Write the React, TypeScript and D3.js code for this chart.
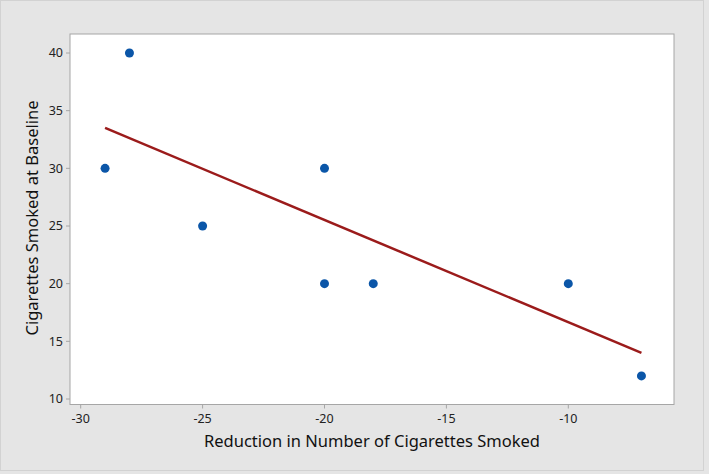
import React from "react";
import * as d3 from "d3";

const reduction = [-29, -28, -25, -20, -20, -18, -10, -7];
const baseline = [30, 40, 25, 30, 20, 20, 20, 12];
const fitX = [-29, -7];
const fitY = [33.5, 14.0];
const xTicks = [-30, -25, -20, -15, -10];
const yTicks = [10, 15, 20, 25, 30, 35, 40];

const W = 709;
const H = 474;
const plot = { left: 70, top: 34, right: 674, bottom: 404.5 };

export default function App() {
  const x = d3.scaleLinear().domain([-30, -10]).range([80.7, 568.3]);
  const y = d3.scaleLinear().domain([10, 40]).range([399, 53]);
  const line = d3
    .line<number>()
    .x((_, i) => x(fitX[i]))
    .y((d) => y(d));
  const font = "'Noto Sans', 'Open Sans', sans-serif";
  return (
    <svg
      width={W}
      height={H}
      style={{ position: "absolute", left: 0, top: 0, display: "block" }}
      fontFamily={font}
    >
      <rect x={0} y={0} width={W} height={H} fill="#e5e5e5" />
      <rect x={0.5} y={0.5} width={703} height={470} fill="#e5e5e5" stroke="#d2d2d2" />
      <rect
        x={plot.left}
        y={plot.top}
        width={plot.right - plot.left}
        height={plot.bottom - plot.top}
        fill="#ffffff"
        stroke="#a6a6a6"
        strokeWidth={1}
      />
      {xTicks.map((t) => (
        <g key={"x" + t}>
          <line x1={x(t)} x2={x(t)} y1={plot.bottom} y2={plot.bottom + 4} stroke="#a6a6a6" />
          <text x={x(t)} y={plot.bottom + 18} textAnchor="middle" fontSize={12.5} fill="#222">
            {t}
          </text>
        </g>
      ))}
      {yTicks.map((t) => (
        <g key={"y" + t}>
          <line x1={plot.left - 4} x2={plot.left} y1={y(t)} y2={y(t)} stroke="#a6a6a6" />
          <text
            x={plot.left - 7}
            y={y(t)}
            dy="0.35em"
            textAnchor="end"
            fontSize={12.5}
            fill="#222"
          >
            {t}
          </text>
        </g>
      ))}
      <path d={line(fitY) || ""} fill="none" stroke="#9b1b1b" strokeWidth={2.5} />
      {reduction.map((r, i) => (
        <circle key={i} cx={x(r)} cy={y(baseline[i])} r={4.5} fill="#0b56a8" />
      ))}
      <text x={372} y={447} textAnchor="middle" fontSize={16.5} fill="#111">
        Reduction in Number of Cigarettes Smoked
      </text>
      <text
        transform={`translate(32, 218) rotate(-90)`}
        textAnchor="middle"
        dy="0.35em"
        fontSize={16.5}
        fill="#111"
      >
        Cigarettes Smoked at Baseline
      </text>
    </svg>
  );
}
